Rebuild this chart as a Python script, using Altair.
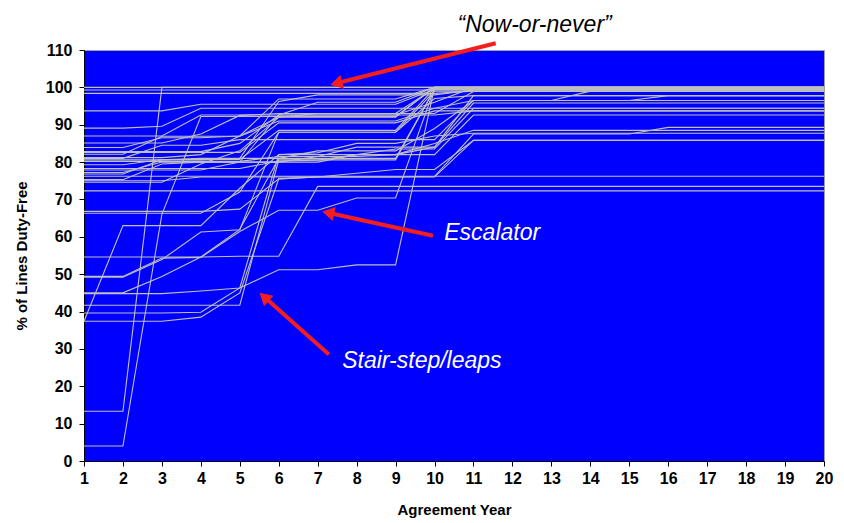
import math
import altair as alt
import pandas as pd

years = [1, 2, 3, 4, 5, 6, 7, 8, 9, 10, 11, 12, 13, 14, 15, 16, 17, 18, 19, 20]
y_ticks = [0, 10, 20, 30, 40, 50, 60, 70, 80, 90, 100, 110]

s01 = [100, 100, 100, 100, 100, 100, 100, 100, 100, 100, 100, 100, 100, 100, 100, 100, 100, 100, 100, 100]
s02 = [99.3, 99.3, 99.3, 99.3, 99.3, 99.3, 99.3, 99.3, 99.3, 99.3, 99.3, 99.3, 99.3, 99.3, 99.3, 99.3, 99.3, 99.3, 99.3, 99.3]
s03 = [98.4, 98.4, 98.4, 98.4, 98.4, 98.4, 98.4, 98.4, 98.4, 98.4, 99.0, 99.0, 99.0, 99.0, 99.0, 99.0, 99.0, 99.0, 99.0, 99.0]
s04 = [93.7, 93.7, 93.7, 95.5, 95.5, 95.5, 95.5, 95.5, 95.5, 99.5, 99.5, 99.5, 99.5, 99.5, 99.5, 99.5, 99.5, 99.5, 99.5, 99.5]
s05 = [89.1, 89.1, 89.6, 94.4, 94.4, 94.4, 94.4, 94.4, 94.4, 94.4, 96.5, 96.5, 96.5, 96.5, 96.5, 97.8, 97.8, 97.8, 97.8, 97.8]
s06 = [87.0, 87.0, 87.0, 92.6, 92.6, 92.6, 92.6, 92.6, 92.6, 92.6, 93.7, 93.7, 93.7, 93.7, 93.7, 93.7, 93.7, 93.7, 93.7, 93.7]
s07 = [85.1, 85.1, 85.1, 87.5, 92.5, 93.0, 93.0, 93.0, 93.0, 99.8, 99.8, 99.8, 99.8, 99.8, 99.8, 99.8, 99.8, 99.8, 99.8, 99.8]
s08 = [83.9, 83.9, 86.5, 86.5, 87.0, 92.0, 93.0, 93.0, 93.0, 93.0, 98.9, 98.9, 98.9, 98.9, 98.9, 98.9, 98.9, 98.9, 98.9, 98.9]
s09 = [82.8, 82.8, 82.8, 82.8, 85.0, 92.6, 96.0, 96.0, 96.0, 100, 100, 100, 100, 100, 100, 100, 100, 100, 100, 100]
s10 = [82.1, 82.1, 86.9, 86.9, 86.9, 91.0, 91.0, 91.0, 91.0, 94.4, 94.4, 94.4, 94.4, 94.4, 94.4, 94.4, 94.4, 94.4, 94.4, 94.4]
s11 = [81.2, 81.2, 81.2, 82.0, 87.0, 96.9, 96.9, 96.9, 96.9, 100, 100, 100, 100, 100, 100, 100, 100, 100, 100, 100]
s12 = [80.6, 80.6, 80.6, 80.6, 81.0, 96.2, 98.0, 98.0, 98.0, 98.0, 99.3, 99.3, 99.3, 99.3, 99.3, 99.3, 99.3, 99.3, 99.3, 99.3]
s13 = [79.3, 79.3, 80.7, 80.7, 80.7, 88.5, 88.5, 88.5, 88.5, 99.8, 99.8, 99.8, 99.8, 99.8, 99.8, 99.8, 99.8, 99.8, 99.8, 99.8]
s14 = [77.9, 77.9, 77.9, 77.9, 80.0, 92.6, 92.6, 92.6, 92.6, 96.0, 100, 100, 100, 100, 100, 100, 100, 100, 100, 100]
s15 = [76.8, 76.8, 80.6, 81.0, 81.0, 81.0, 83.0, 83.0, 83.0, 89.0, 96.5, 96.5, 96.5, 99.0, 99.0, 99.0, 99.0, 99.0, 99.0, 99.0]
s16 = [75.3, 75.3, 79.5, 80.0, 80.0, 80.0, 81.5, 84.0, 84.0, 84.0, 95.8, 95.8, 95.8, 95.8, 95.8, 95.8, 95.8, 95.8, 95.8, 95.8]
s17 = [74.6, 74.6, 74.6, 79.5, 83.0, 92.0, 92.0, 92.0, 92.0, 100, 100, 100, 100, 100, 100, 100, 100, 100, 100, 100]
s18 = [76.2, 76.2, 76.2, 76.2, 76.2, 76.2, 76.2, 76.2, 76.2, 76.2, 76.2, 76.2, 76.2, 76.2, 76.2, 76.2, 76.2, 76.2, 76.2, 76.2]
s19 = [72.3, 72.3, 72.3, 72.3, 72.3, 72.3, 72.3, 72.3, 72.3, 72.3, 72.3, 72.3, 72.3, 72.3, 72.3, 72.3, 72.3, 72.3, 72.3, 72.3]
s20 = [66.8, 66.8, 66.8, 66.8, 67.4, 75.5, 76.0, 76.0, 76.0, 76.2, 87.5, 87.5, 87.5, 87.5, 87.5, 89.3, 89.3, 89.3, 89.3, 89.3]
s21 = [37.4, 63.0, 63.0, 63.0, 73.0, 82.0, 82.0, 82.0, 82.0, 85.0, 88.5, 88.5, 88.5, 88.5, 88.5, 88.5, 88.5, 88.5, 88.5, 88.5]
s22 = [13.3, 13.3, 100, 100, 100, 100, 100, 100, 100, 100, 100, 100, 100, 100, 100, 100, 100, 100, 100, 100]
s23 = [4.0, 4.0, 66.0, 92.2, 92.2, 92.2, 92.2, 92.2, 92.2, 100, 100, 100, 100, 100, 100, 100, 100, 100, 100, 100]
s24 = [49.4, 49.4, 54.3, 54.5, 61.4, 67.1, 67.1, 70.4, 70.4, 99.8, 99.8, 99.8, 99.8, 99.8, 99.8, 99.8, 99.8, 99.8, 99.8, 99.8]
s25 = [54.6, 54.6, 54.6, 54.6, 54.8, 54.8, 73.5, 73.5, 73.5, 73.5, 73.5, 73.5, 73.5, 73.5, 73.5, 73.5, 73.5, 73.5, 73.5, 73.5]
s26 = [41.7, 41.7, 41.7, 41.7, 41.7, 80.6, 80.6, 80.6, 80.6, 99.5, 99.5, 99.5, 99.5, 99.5, 99.5, 99.5, 99.5, 99.5, 99.5, 99.5]
s27 = [39.6, 39.6, 39.6, 39.8, 46.3, 82.0, 82.5, 85.0, 85.0, 87.0, 87.7, 87.7, 87.7, 87.7, 87.7, 87.7, 87.7, 87.7, 87.7, 87.7]
s28 = [37.4, 37.4, 37.4, 38.5, 45.0, 75.5, 76.0, 76.0, 76.0, 76.0, 85.8, 85.8, 85.8, 85.8, 85.8, 85.8, 85.8, 85.8, 85.8, 85.8]
s29 = [45.0, 45.0, 49.4, 54.6, 62.0, 81.0, 81.0, 81.0, 81.0, 99.5, 99.5, 99.5, 99.5, 99.5, 99.5, 99.5, 99.5, 99.5, 99.5, 99.5]
s30 = [44.8, 44.8, 44.8, 45.5, 46.3, 51.2, 51.2, 52.5, 52.5, 100, 100, 100, 100, 100, 100, 100, 100, 100, 100, 100]
s31 = [49.2, 49.2, 53.9, 61.3, 61.9, 88.0, 88.0, 88.0, 88.0, 99.0, 99.0, 99.0, 99.0, 99.0, 99.0, 99.0, 99.0, 99.0, 99.0, 99.0]
s32 = [80.2, 80.2, 80.2, 80.2, 80.2, 81.5, 81.5, 81.5, 82.0, 84.0, 97.8, 97.8, 97.8, 97.8, 97.8, 97.8, 97.8, 97.8, 97.8, 97.8]
s33 = [78.3, 78.3, 78.3, 78.3, 78.3, 80.3, 80.5, 82.0, 83.5, 83.5, 94.4, 94.4, 94.4, 94.4, 94.4, 94.4, 94.4, 94.4, 94.4, 94.4]
s34 = [77.2, 77.2, 80.0, 80.0, 80.0, 80.0, 80.0, 82.0, 82.0, 82.0, 92.6, 92.6, 92.6, 92.6, 92.6, 92.6, 92.6, 92.6, 92.6, 92.6]
s35 = [81.0, 81.0, 84.5, 84.5, 86.0, 86.0, 86.0, 86.0, 86.0, 86.0, 96.5, 96.5, 96.5, 96.5, 96.5, 96.5, 96.5, 96.5, 96.5, 96.5]
s36 = [75.0, 75.0, 75.0, 76.0, 76.0, 76.0, 76.0, 77.0, 78.0, 78.0, 85.8, 85.8, 85.8, 85.8, 85.8, 85.8, 85.8, 85.8, 85.8, 85.8]
s37 = [82.6, 82.6, 82.6, 82.6, 82.6, 90.5, 90.5, 90.5, 90.5, 93.7, 93.7, 93.7, 93.7, 93.7, 93.7, 93.7, 93.7, 93.7, 93.7, 93.7]
s38 = [66.3, 66.3, 66.3, 66.3, 72.0, 88.0, 88.0, 88.0, 88.0, 97.0, 97.8, 97.8, 97.8, 97.8, 97.8, 97.8, 97.8, 97.8, 97.8, 97.8]

series = [s01, s02, s03, s04, s05, s06, s07, s08, s09, s10, s11, s12, s13, s14, s15, s16, s17, s18, s19,
          s20, s21, s22, s23, s24, s25, s26, s27, s28, s29, s30, s31, s32, s33, s34, s35, s36, s37, s38]

# annotations (data coordinates)
ann_text = ["\u201cNow-or-never\u201d", "Escalator", "Stair-step/leaps"]
ann_x = [10.59, 10.25, 7.63]
ann_y = [116.7, 61.1, 26.7]
ann_color = ["black", "white", "white"]

arrow_tail_x = [11.57, 9.96, 7.29]
arrow_tail_y = [111.8, 60.3, 28.5]
arrow_tip_x = [7.33, 7.12, 5.51]
arrow_tip_y = [100.7, 66.8, 45.0]

W, H = 740, 411
px_x = W / 19.0
px_y = H / 110.0

rows = []
for i, vals in enumerate(series):
    for yr, v in zip(years, vals):
        rows.append({"series": f"S{i+1:02d}", "year": yr, "pct": v})
df = pd.DataFrame(rows)

arr_rows = []
for tx, ty, hx, hy in zip(arrow_tail_x, arrow_tail_y, arrow_tip_x, arrow_tip_y):
    dx = (hx - tx) * px_x
    dy = -(hy - ty) * px_y
    L = math.hypot(dx, dy)
    ux, uy = dx / L, dy / L
    back = 6.0
    cx = hx - back * ux / px_x
    cy = hy + back * uy / px_y
    ang = math.degrees(math.atan2(ux, -uy)) % 360
    arr_rows.append({"year": tx, "pct": ty, "x2": cx, "y2": cy, "hx": cx, "hy": cy, "angle": ang})
adf = pd.DataFrame(arr_rows)
tdf = pd.DataFrame({"text": ann_text, "year": ann_x, "pct": ann_y, "color": ann_color})

xscale = alt.Scale(domain=[1, 20], nice=False, zero=False)
yscale = alt.Scale(domain=[0, 110], nice=False)

x_axis = alt.Axis(values=years, title="Agreement Year", format="d",
                  labelPadding=4, titlePadding=16, labelOverlap=False)
y_axis = alt.Axis(values=y_ticks, title="% of Lines Duty-Free", format="d",
                  labelPadding=7, titlePadding=16, labelOverlap=False)

X = alt.X("year:Q", scale=xscale, axis=x_axis)
Y = alt.Y("pct:Q", scale=yscale, axis=y_axis)

lines = alt.Chart(df).mark_line(color="#C0C0C0", strokeWidth=1.1).encode(
    x=X, y=Y, detail="series:N",
)

rules = alt.Chart(adf).mark_rule(color="#F41E1E", strokeWidth=4).encode(
    x=X, y=Y, x2="x2:Q", y2="y2:Q",
)

heads = alt.Chart(adf).mark_point(shape="triangle-up", filled=True, color="#F41E1E",
                                  size=200, opacity=1).encode(
    x=alt.X("hx:Q", scale=xscale, axis=x_axis),
    y=alt.Y("hy:Q", scale=yscale, axis=y_axis),
    angle=alt.Angle("angle:Q", scale=None),
)

texts = alt.Chart(tdf).mark_text(font="Liberation Sans", fontStyle="italic", fontSize=23,
                                 align="left", baseline="middle").encode(
    x=X, y=Y,
    text="text:N",
    color=alt.Color("color:N", scale=None),
)

chart = alt.layer(lines, rules, heads, texts).properties(
    width=W, height=H,
    autosize=alt.AutoSizeParams(type="none"),
    padding={"left": 76, "top": 42, "right": 12, "bottom": 62},
).configure_view(
    fill="#0000FF", stroke="#A0A0A0", strokeWidth=1,
).configure_axis(
    grid=False, domainColor="black", tickColor="black", tickSize=5,
    labelColor="black", labelFont="Liberation Sans", labelFontWeight="bold", labelFontSize=16,
    titleColor="black", titleFont="Liberation Sans", titleFontWeight="bold", titleFontSize=15,
    labelFlush=False, labelBound=False, labelOverlap=False,
)

chart.save("out.html", embed_options={"renderer": "svg", "actions": False})
